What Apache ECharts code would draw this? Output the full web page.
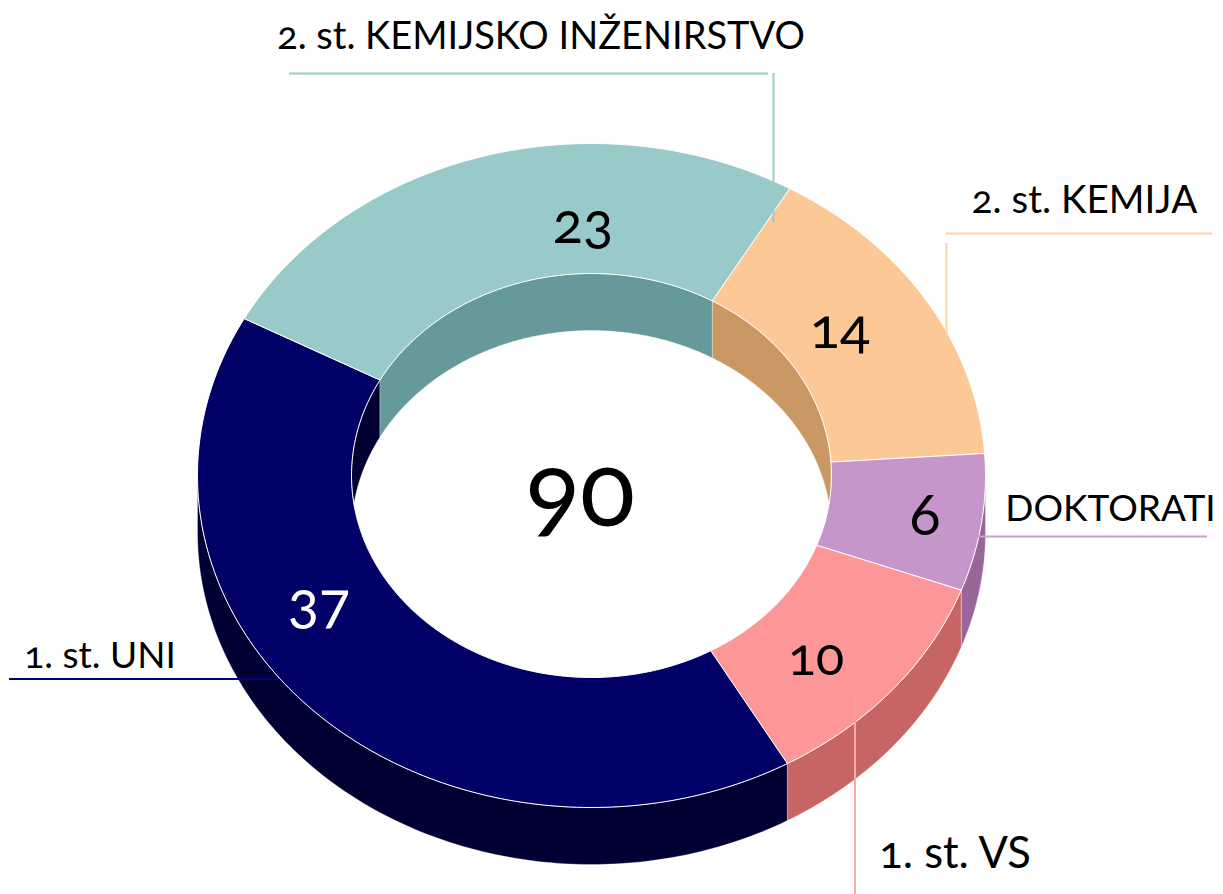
<!DOCTYPE html>
<html>
<head>
<meta charset="utf-8">
<style>
html, body { margin: 0; padding: 0; background: #fff; }
#main { width: 1223px; height: 894px; }
#main text { font-variant-numeric: oldstyle-nums !important; font-feature-settings: "onum" 1 !important; }
</style>
<script src="https://cdn.jsdelivr.net/npm/echarts@6/dist/echarts.min.js"></script>
</head>
<body>
<div id="main"></div>
<script>
// order follows the ring clockwise, starting at the 2. st. KEMIJA slice
const categories = ['2. st. KEMIJA', 'DOKTORATI', '1. st. VS', '1. st. UNI', '2. st. KEMIJSKO INŽENIRSTVO'];
const values = [14, 6, 10, 37, 23];

const topColors = ['#fcc896', '#c695c9', '#fd9697', '#000066', '#99caca'];
const wallColors = ['#c99863', '#996699', '#c76565', '#000033', '#669999'];
const textColors = ['#000', '#000', '#000', '#fff', '#000'];

// ring geometry in page pixels
const ring = { cx: 591.5, cy: 475.5, rx: 394, ry: 332, irx: 240, iry: 202, depth: 57, startAngle: 30.2 };

const total = values.reduce((a, b) => a + b, 0);
let cum = 0;
const seriesData = values.map(v => {
	let row = [v, cum];
	cum += v;
	return row;
});

// angle in degrees, clockwise from the top of the ellipse
function pt(rx, ry, deg, dy) {
	let a = deg * Math.PI / 180;
	return [ring.cx + rx * Math.sin(a), ring.cy - ry * Math.cos(a) + (dy || 0)];
}

function sweep(api) {
	let start = ring.startAngle + api.value(1) / total * 360;
	return [start, start + api.value(0) / total * 360];
}

function arcPoints(rx, ry, a, b, dy) {
	let n = Math.max(2, Math.ceil(Math.abs(b - a)));
	let arr = [];
	for (let i = 0; i <= n; i++) {
		arr.push(pt(rx, ry, a + (b - a) * i / n, dy));
	}
	return arr;
}

function renderWall(params, api) {
	let [a, b] = sweep(api);
	let children = [];
	let style = { fill: wallColors[params.dataIndex], stroke: 'rgba(255,255,255,0.55)', lineWidth: 0.6 };

	// outer wall, only the front half of the ring shows it
	let oa = Math.max(a, 90), ob = Math.min(b, 270);
	if (ob > oa) {
		let top = arcPoints(ring.rx, ring.ry, oa, ob, 0);
		let low = arcPoints(ring.rx, ring.ry, ob, oa, ring.depth);
		children.push({ type: 'polygon', shape: { points: top.concat(low) }, style });
	}

	// inner wall, seen through the hole on the far side
	[[a, b], [a + 360, b + 360], [a - 360, b - 360]].forEach(r => {
		let ia = Math.max(r[0], -90), ib = Math.min(r[1], 90);
		if (ia >= 86.2 || ib <= ia) return;
		let n = Math.ceil(ib - ia) * 2;
		let up = [], low = [];
		for (let i = 0; i <= n; i++) {
			let p = pt(ring.irx, ring.iry, ia + (ib - ia) * i / n, 0);
			let u = (p[0] - ring.cx) / ring.irx;
			let floor = ring.cy + ring.iry * Math.sqrt(Math.max(0, 1 - u * u));
			up.push(p);
			low.unshift([p[0], Math.min(p[1] + ring.depth, floor)]);
		}
		children.push({ type: 'polygon', shape: { points: up.concat(low) }, style });
	});
	return { type: 'group', children };
}

function renderTop(params, api) {
	let [a, b] = sweep(api);
	let outer = arcPoints(ring.rx, ring.ry, a, b, 0);
	let inner = arcPoints(ring.irx, ring.iry, b, a, 0);
	return {
		type: 'polygon',
		shape: { points: outer.concat(inner) },
		style: { fill: topColors[params.dataIndex], stroke: '#fff', lineWidth: 1 }
	};
}

const fontName = 'Lato, "Open Sans", sans-serif';

function txt(text, x, y, size, color) {
	return {
		type: 'text', z: 20, x, y,
		style: { text: String(text), fontFamily: fontName, fontSize: size, fill: color, align: 'center', verticalAlign: 'middle' }
	};
}

function seg(x1, y1, x2, y2, color) {
	return {
		type: 'line', z: 10,
		shape: { x1, y1, x2, y2 },
		style: { stroke: color, lineWidth: 2 }
	};
}

const chart = echarts.init(document.getElementById('main'), null, { renderer: 'svg' });
chart.setOption({
	animation: false,
	backgroundColor: '#fff',
	series: [
		{ type: 'custom', coordinateSystem: 'none', clip: false, z: 1, data: seriesData, renderItem: renderWall },
		{ type: 'custom', coordinateSystem: 'none', clip: false, z: 2, data: seriesData, renderItem: renderTop }
	],
	graphic: [
		// leader lines, the parts lying on their own slice are almost the slice colour
		seg(289, 73.5, 768, 73.5, '#9accc9'),
		seg(773.5, 73, 773.5, 223, '#9accc9'),
		seg(946, 233.5, 1212, 233.5, '#fdd2a8'),
		seg(946.5, 243, 946.5, 332, '#fdd2a8'),
		seg(946.5, 332, 946.5, 417, '#fdcb9b'),
		seg(933, 536.5, 981, 536.5, '#c899cb'),
		seg(981, 536.5, 1207, 536.5, '#cc9fd0'),
		seg(855, 693, 855, 722, '#fd9c9d'),
		seg(855, 722, 855, 894, '#fda8a8'),
		seg(9, 679, 279, 679, '#00007a'),
		// category labels
		txt(categories[4], 541, 33.5, 38, '#000'),
		txt(categories[0], 1084.5, 198, 38.5, '#000'),
		txt(categories[1], 1110.5, 506, 37, '#000'),
		txt(categories[2], 955, 851, 43.5, '#000'),
		txt(categories[3], 100, 653, 37, '#000'),
		// slice values and the total
		txt(values[4], 583, 221, 56, textColors[4]),
		txt(values[0], 840, 326, 56, textColors[0]),
		txt(values[1], 925, 512, 58, textColors[1]),
		txt(values[2], 816, 655, 52, textColors[2]),
		txt(values[3], 319, 600, 58, textColors[3]),
		txt(total, 580, 486, 102, '#000')
	]
});
</script>
</body>
</html>
